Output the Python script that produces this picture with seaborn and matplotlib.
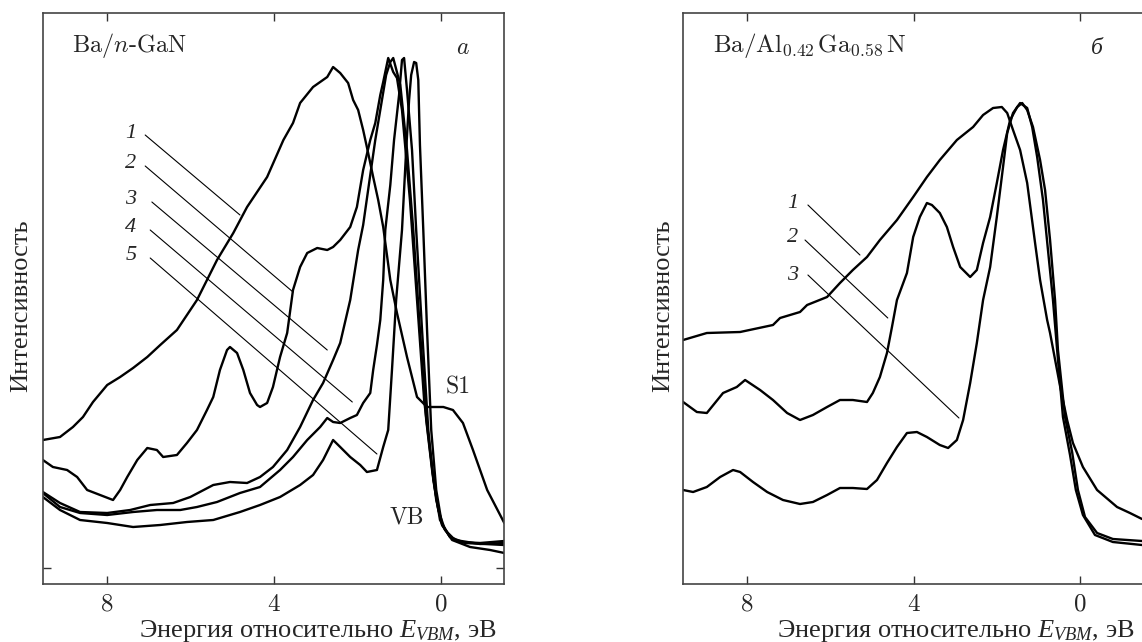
import numpy as np
import pandas as pd
import matplotlib
matplotlib.use("Agg")
import matplotlib.pyplot as plt
import seaborn as sns

# ---------------- data: panel a (Ba/n-GaN) ----------------
gan1_E = [9.53,9.12,8.81,8.57,8.33,7.99,7.68,7.37,7.03,6.72,6.32,5.84,5.36,4.97,4.64,4.16,3.77,3.54,3.37,3.06,2.72,2.58,2.41,2.22,2.10,1.98,1.86,1.74,1.62,1.50,1.38,1.21,1.05,0.81,0.57,0.33,-0.06,-0.29,-0.53,-0.77,-1.11,-1.52]
gan1_I = [144,147,157,167,182,199,207,216,227,239,254,284,324,351,377,407,444,461,481,497,507,517,511,501,484,474,454,431,407,384,357,304,271,227,187,177,177,174,161,134,94,61]

gan2_E = [9.53,9.29,8.95,8.71,8.47,8.16,7.85,7.68,7.51,7.27,7.03,6.80,6.65,6.32,6.08,5.84,5.60,5.45,5.29,5.12,5.05,4.88,4.73,4.57,4.40,4.33,4.16,4.02,3.85,3.68,3.54,3.37,3.20,2.96,2.72,2.58,2.41,2.17,2.01,1.86,1.69,1.57,1.45,1.38,1.26,1.14,1.05,0.93,0.74,0.57,0.40,0.26,0.11,-0.03,-0.22,-0.46,-0.94,-1.52]
gan2_I = [124,117,114,107,94,89,84,94,107,124,136,134,127,129,141,154,174,187,214,234,237,231,214,191,179,177,181,197,227,251,294,317,331,336,334,337,344,357,377,414,444,461,489,502,526,512,506,474,384,284,184,134,84,59,47,42,41,43]

gan3_E = [9.53,9.12,8.64,7.99,7.44,6.96,6.41,6.00,5.45,5.05,4.64,4.33,4.02,3.68,3.37,3.06,2.82,2.58,2.41,2.17,1.98,1.86,1.69,1.57,1.45,1.31,1.21,1.14,0.97,0.81,0.66,0.50,0.35,0.21,0.06,-0.10,-0.34,-0.94,-1.52]
gan3_I = [92,81,72,71,74,79,81,87,99,102,101,107,117,134,157,184,201,224,241,284,334,359,409,444,474,509,522,526,499,434,354,254,164,114,74,54,44,40,41]

gan4_E = [9.53,9.12,8.64,7.99,7.37,6.80,6.24,5.84,5.36,4.81,4.33,3.85,3.54,3.20,2.89,2.72,2.58,2.41,2.17,2.01,1.86,1.69,1.62,1.53,1.45,1.38,1.33,1.21,1.12,1.00,0.93,0.88,0.81,0.69,0.59,0.45,0.30,0.18,0.02,-0.22,-0.58,-1.52]
gan4_I = [91,77,71,69,72,74,74,77,82,91,97,114,127,144,157,166,162,161,166,169,181,191,214,239,264,304,354,399,444,489,524,526,494,434,354,254,154,104,64,47,41,39]

gan5_E = [9.53,9.12,8.64,7.99,7.37,6.72,6.08,5.45,4.81,4.33,3.85,3.37,3.06,2.82,2.58,2.41,2.17,1.93,1.77,1.53,1.38,1.26,1.17,1.07,0.93,0.83,0.76,0.71,0.64,0.59,0.54,0.50,0.42,0.33,0.23,0.11,-0.03,-0.27,-0.70,-1.18,-1.52]
gan5_I = [87,74,64,61,57,59,62,64,72,79,87,99,109,124,144,137,127,119,112,114,137,154,214,284,354,434,484,509,522,521,504,439,354,254,154,94,59,44,37,34,31]

# ---------------- data: panel b (Ba/Al0.42Ga0.58N) ----------------
aln1_E = [9.54,8.97,8.17,7.38,7.21,6.73,6.56,6.08,5.77,5.46,5.12,4.81,4.40,4.01,3.68,3.37,2.96,2.57,2.33,2.09,1.88,1.75,1.61,1.44,1.27,1.08,0.96,0.79,0.72,0.48,0.31,0.17,-0.07,-0.41,-0.89,-1.20,-1.49]
aln1_I = [244,251,252,259,266,272,279,287,301,314,327,344,364,387,407,424,444,457,469,476,477,471,454,434,401,341,304,264,251,198,164,141,117,94,77,71,65]

aln2_E = [9.54,9.21,8.97,8.58,8.25,8.05,7.69,7.38,7.04,6.73,6.42,6.08,5.77,5.46,5.12,4.98,4.81,4.64,4.52,4.40,4.16,4.01,3.85,3.68,3.56,3.37,3.20,3.05,2.88,2.64,2.48,2.33,2.16,2.00,1.85,1.68,1.51,1.39,1.27,1.13,0.96,0.84,0.72,0.60,0.53,0.36,0.19,0.05,-0.12,-0.41,-0.79,-1.49]
aln2_I = [182,172,171,191,197,204,194,184,171,164,169,177,184,184,182,191,207,231,257,284,311,347,367,381,379,371,357,337,317,307,314,341,367,401,434,464,477,481,474,457,424,394,344,284,234,167,132,94,67,51,45,43]

aln3_E = [9.54,9.30,8.97,8.65,8.34,8.17,7.86,7.52,7.14,6.73,6.42,6.08,5.77,5.46,5.12,4.88,4.64,4.40,4.16,3.92,3.68,3.37,3.17,2.96,2.81,2.64,2.48,2.33,2.16,2.00,1.85,1.75,1.61,1.44,1.27,1.15,1.03,0.89,0.77,0.65,0.55,0.41,0.24,0.10,-0.07,-0.36,-0.79,-1.49]
aln3_I = [94,92,97,107,114,112,102,92,84,80,82,89,96,96,95,104,121,137,151,152,147,139,136,144,164,201,241,284,317,367,417,451,471,481,476,457,427,384,334,284,234,167,129,94,69,49,42,39]

# curve labels and leader lines (energy, intensity)
gan_labels = ["1", "2", "3", "4", "5"]
gan_label_E = [7.42, 7.42, 7.42, 7.42, 7.42]
gan_label_I = [451, 420, 384, 356, 329]
gan_lead_E0 = [7.08, 7.08, 6.92, 6.96, 6.96]
gan_lead_I0 = [449, 418, 382, 354, 326]
gan_lead_E1 = [4.81, 3.54, 2.72, 2.12, 1.53]
gan_lead_I1 = [369, 292, 234, 182, 130]

aln_labels = ["1", "2", "3"]
aln_label_E = [6.90, 6.90, 6.90]
aln_label_I = [381, 346, 309]
aln_lead_E0 = [6.54, 6.61, 6.54]
aln_lead_I0 = [379, 344, 309]
aln_lead_E1 = [5.29, 4.62, 2.91]
aln_lead_I1 = [329, 266, 166]

xticks = [8, 4, 0]
xticklabels = ["8", "4", "0"]

# ---------------- style ----------------
sns.set_theme(style="white")
plt.rcParams.update({
    "font.family": ["cmr10", "Liberation Serif"],
    "mathtext.fontset": "cm",
    "mathtext.rm": "Liberation Serif",
    "mathtext.it": "Liberation Serif:italic",
    "mathtext.bf": "Liberation Serif:bold",
    "axes.formatter.use_mathtext": True,
    "axes.unicode_minus": False,
})

W, H = 1142, 642
fig = plt.figure(figsize=(W / 100, H / 100), dpi=100)
axL = fig.add_axes([43.3 / W, 1 - 584 / H, 461 / W, 571.3 / H])
axR = fig.add_axes([682.7 / W, 1 - 584 / H, 459.3 / W, 571.3 / H])


def long_df(curves):
    rows = []
    for name, (E, I) in curves.items():
        rows.append(pd.DataFrame({"E": E, "I": I, "curve": name}))
    return pd.concat(rows, ignore_index=True)


dfL = long_df({"1": (gan1_E, gan1_I), "2": (gan2_E, gan2_I), "3": (gan3_E, gan3_I),
               "4": (gan4_E, gan4_I), "5": (gan5_E, gan5_I)})
dfR = long_df({"1": (aln1_E, aln1_I), "2": (aln2_E, aln2_I), "3": (aln3_E, aln3_I)})

for ax, df in ((axL, dfL), (axR, dfR)):
    sns.lineplot(data=df, x="E", y="I", units="curve", estimator=None, sort=False,
                 color="black", linewidth=1.7, ax=ax, legend=False)

axL.set_xlim(9.52, -1.52)
axR.set_xlim(9.55, -1.49)
for ax in (axL, axR):
    ax.set_ylim(0, 571.3)
    ax.set_xticks(xticks)
    ax.set_xticklabels(xticklabels)
    ax.tick_params(axis="x", direction="in", top=True, bottom=True, length=6, width=1.0,
                   color="#333333", labelsize=18, pad=7)
    for s in ax.spines.values():
        s.set_color("#444444")
        s.set_linewidth(1.2)
    ax.set_ylabel("")
    ax.set_xlabel(r"Энергия относительно $E_{VBM}$, эВ", fontsize=19,
                  fontfamily="Liberation Serif", math_fontfamily="custom")
    ax.xaxis.set_label_coords(0.984, -0.0928)
    ax.xaxis.label.set_ha("right")
    ax.xaxis.label.set_va("baseline")

axL.set_yticks([16])
axL.set_yticklabels([""])
axL.tick_params(axis="y", direction="in", left=True, right=True, length=6, width=1.0,
                color="#333333", labelleft=False)
axR.set_yticks([])
axR.spines["right"].set_visible(False)

# leader lines and labels
for lab, lx, ly, x0, y0, x1, y1 in zip(gan_labels, gan_label_E, gan_label_I,
                                       gan_lead_E0, gan_lead_I0, gan_lead_E1, gan_lead_I1):
    axL.plot([x0, x1], [y0, y1], color="black", lw=0.8)
    axL.text(lx, ly, lab, ha="center", va="center", fontsize=16, fontstyle="italic",
             family=["Liberation Serif"])
for lab, lx, ly, x0, y0, x1, y1 in zip(aln_labels, aln_label_E, aln_label_I,
                                       aln_lead_E0, aln_lead_I0, aln_lead_E1, aln_lead_I1):
    axR.plot([x0, x1], [y0, y1], color="black", lw=0.8)
    axR.text(lx, ly, lab, ha="center", va="center", fontsize=16, fontstyle="italic",
             family=["Liberation Serif"])

axL.text(0.062, 0.943, r"Ba/$n$-GaN", transform=axL.transAxes, ha="left", va="center", fontsize=17.5)
axL.text(0.910, 0.938, r"$a$", transform=axL.transAxes, ha="center", va="center", fontsize=17)
axR.text(0.066, 0.943, r"Ba/Al$_{0.42\,}$Ga$_{0.58\,}$N", transform=axR.transAxes, ha="left",
         va="center", fontsize=18)
axR.text(0.902, 0.938, "б", transform=axR.transAxes, ha="center", va="center", fontsize=17,
         fontstyle="italic", family=["Liberation Serif"])

axL.text(-0.41, 197, "S1", ha="center", va="center", fontsize=17)
axL.text(0.81, 67, "VB", ha="center", va="center", fontsize=17)

fig.text(21 / W, 1 - 306 / H, "Интенсивность", rotation=90, ha="center", va="center", fontsize=19,
         family=["Liberation Serif"])
fig.text(663 / W, 1 - 306 / H, "Интенсивность", rotation=90, ha="center", va="center", fontsize=19,
         family=["Liberation Serif"])

fig.savefig("out.png", dpi=100)
